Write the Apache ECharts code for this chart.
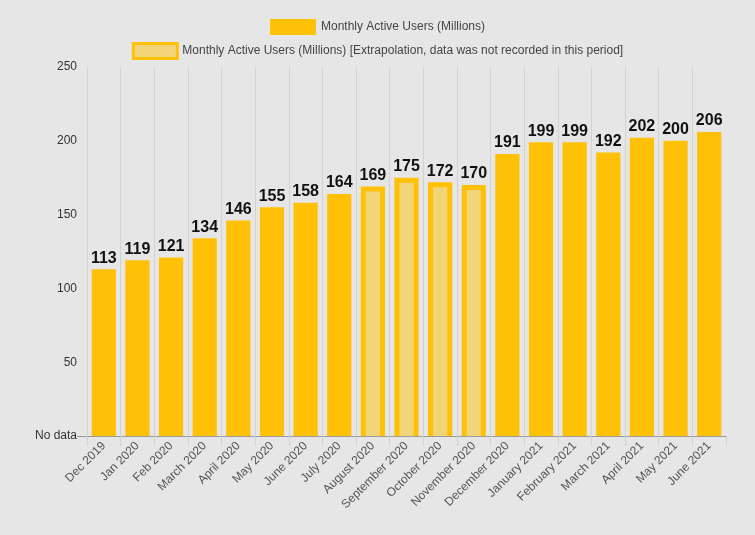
<!DOCTYPE html>
<html>
<head>
<meta charset="utf-8">
<script src="https://cdn.jsdelivr.net/npm/echarts@6/dist/echarts.min.js"></script>
<style>
html,body{margin:0;padding:0;background:#e6e6e6;}
#chart{width:755px;height:535px;}
</style>
</head>
<body>
<div id="chart"></div>
<script>
const categories = ["Dec 2019","Jan 2020","Feb 2020","March 2020","April 2020","May 2020","June 2020","July 2020","August 2020","September 2020","October 2020","November 2020","December 2020","January 2021","February 2021","March 2021","April 2021","May 2021","June 2021"];
const recorded = [113,119,121,134,146,155,158,164,null,null,null,null,191,199,199,192,202,200,206];
const extrapolated = [null,null,null,null,null,null,null,null,169,175,172,170,null,null,null,null,null,null,null];
const yTicks = [0,50,100,150,200,250];
const seriesNames = ["Monthly Active Users (Millions)","Monthly Active Users (Millions) [Extrapolation, data was not recorded in this period]"];

const amber = '#FFC107';
const lightFill = '#F2D479';
const font = 'Liberation Sans, Arial, Helvetica, sans-serif';
const BORDER = 5;
const BAR_RATIO = 0.72;

const splitColors = categories.map(() => '#d2d2d2').concat(['#e6e6e6']);

const chart = echarts.init(document.getElementById('chart'), null, {renderer:'canvas'});
const labelCfg = {show:true, position:'top', distance:3, color:'#111', fontWeight:'bold', fontSize:16, fontFamily:font};

const innerData = extrapolated.map((v, i) => v === null ? null : [i, v]).filter(d => d);

chart.setOption({
  backgroundColor:'#e6e6e6',
  animation:false,
  textStyle:{fontFamily:font},
  legend:[
    {top:14, left:'center', itemWidth:46, itemHeight:16, icon:'rect',
     textStyle:{fontSize:12, color:'#444', fontFamily:font},
     data:[{name:seriesNames[0], itemStyle:{color:amber, borderWidth:0}}]},
    {top:37, left:'center', itemWidth:44, itemHeight:15, icon:'rect',
     textStyle:{fontSize:12, color:'#444', fontFamily:font},
     data:[{name:seriesNames[1], itemStyle:{color:lightFill, borderColor:amber, borderWidth:3}}]}
  ],
  grid:{left:87, right:29, top:67, bottom:99, containLabel:false},
  xAxis:{
    type:'category', data:categories, boundaryGap:true,
    axisLine:{show:true, lineStyle:{color:'#9a9a9a', width:1}},
    axisTick:{show:true, length:10, lineStyle:{color:'#d2d2d2'}},
    splitLine:{show:true, lineStyle:{color:splitColors, width:1}},
    axisLabel:{rotate:45, interval:0, fontSize:12, color:'#555', fontFamily:font, margin:8}
  },
  yAxis:{
    type:'value', min:0, max:250, interval:50,
    axisLine:{show:true, lineStyle:{color:'#d2d2d2'}},
    axisTick:{show:true, length:10, customValues:[0], lineStyle:{color:'#9a9a9a'}},
    splitLine:{show:false},
    axisLabel:{fontSize:12, color:'#333', fontFamily:font, margin:10,
      customValues: yTicks,
      formatter: v => v === 0 ? 'No data' : String(v)}
  },
  series:[
    {name:seriesNames[0], type:'bar', stack:'m', barWidth:(BAR_RATIO*100)+'%',
     data:recorded.map(v => v === null ? '-' : v),
     itemStyle:{color:amber},
     label:labelCfg},
    {name:seriesNames[1], type:'bar', stack:'m', barWidth:(BAR_RATIO*100)+'%',
     data:extrapolated.map(v => v === null ? '-' : v),
     itemStyle:{color:amber},
     label:labelCfg},
    {name:'extrapolation-inner', type:'custom', z:3, silent:true,
     data:innerData,
     renderItem:function(params, api){
       const idx = api.value(0);
       const top = api.coord([idx, api.value(1)]);
       const base = api.coord([idx, 0]);
       const band = api.size([1, 0])[0];
       const w = band * BAR_RATIO;
       const x = top[0] - w/2 + BORDER;
       const y = top[1] + BORDER;
       return {
         type:'rect',
         shape:{x:x, y:y, width:w - 2*BORDER, height:base[1] - y},
         style:{fill:lightFill}
       };
     }}
  ]
});
</script>
</body>
</html>
